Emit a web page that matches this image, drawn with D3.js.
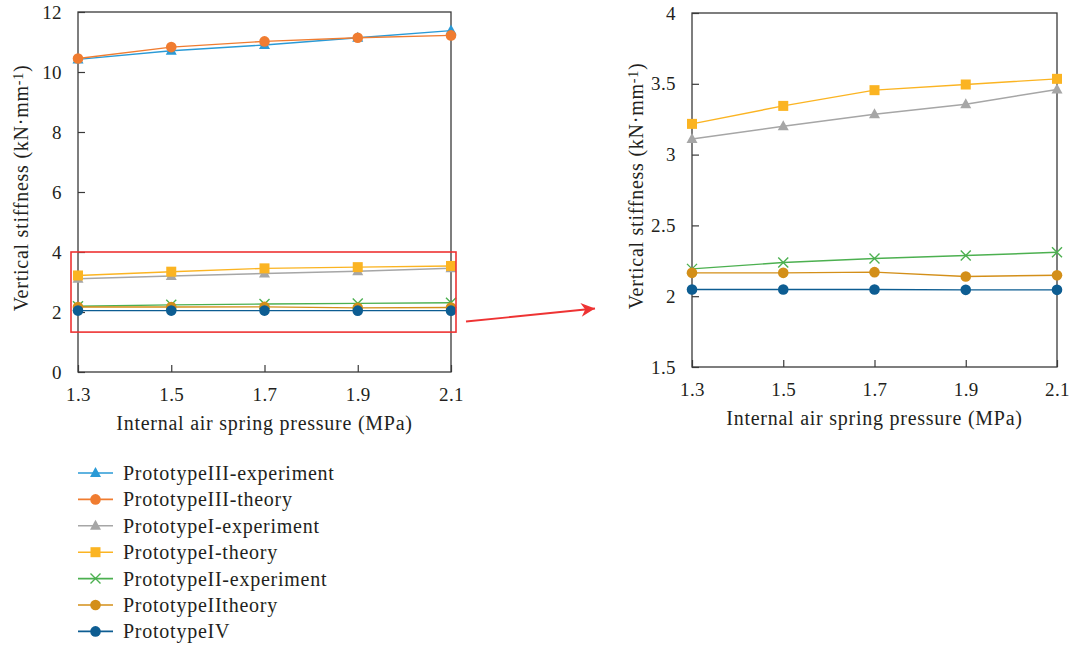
<!DOCTYPE html>
<html>
<head>
<meta charset="utf-8">
<script src="https://cdn.jsdelivr.net/npm/d3@7"></script>
<style>
  body { margin: 0; background: #fff; }
  svg text { font-family: "Liberation Serif", "DejaVu Serif", serif; fill: #231f20; }
</style>
</head>
<body>
<div id="chart"></div>
<script>
// pressure values (MPa)
const pressures = [1.3, 1.5, 1.7, 1.9, 2.1];

// vertical stiffness values (kN/mm)
const p3Experiment = [10.42, 10.71, 10.9, 11.14, 11.38];
const p3Theory = [10.45, 10.83, 11.02, 11.14, 11.22];
const p1Experiment = [3.11, 3.2, 3.285, 3.356, 3.46];
const p1Theory = [3.217, 3.344, 3.455, 3.495, 3.535];
const p2Experiment = [2.193, 2.238, 2.266, 2.287, 2.31];
const p2Theory = [2.165, 2.165, 2.17, 2.139, 2.148];
const p4 = [2.047, 2.047, 2.047, 2.045, 2.045];

const leftTicks = [0, 2, 4, 6, 8, 10, 12];
const rightTicks = [1.5, 2, 2.5, 3, 3.5, 4];
const zoomRange = [1.33, 4]; // red box on the left chart

const series = [
  { name: 'PrototypeIII-experiment', values: p3Experiment, color: '#2a9ad6', marker: 'triangle', zoomed: false },
  { name: 'PrototypeIII-theory', values: p3Theory, color: '#f07c30', marker: 'circle', zoomed: false },
  { name: 'PrototypeI-experiment', values: p1Experiment, color: '#a6a6a6', marker: 'triangle', zoomed: true },
  { name: 'PrototypeI-theory', values: p1Theory, color: '#fbb422', marker: 'square', zoomed: true },
  { name: 'PrototypeII-experiment', values: p2Experiment, color: '#4cb050', marker: 'cross', zoomed: true },
  { name: 'PrototypeIItheory', values: p2Theory, color: '#d38f19', marker: 'circle', zoomed: true },
  { name: 'PrototypeIV', values: p4, color: '#0d5d92', marker: 'circle', zoomed: true }
];

const width = 1079, height = 650;
const svg = d3.select('#chart').append('svg')
  .attr('width', width)
  .attr('height', height);

function drawMarker(g, type, x, y, color) {
  if (type === 'circle') {
    g.append('circle').attr('cx', x).attr('cy', y).attr('r', 5.3).attr('fill', color);
  } else if (type === 'square') {
    g.append('rect').attr('x', x - 5).attr('y', y - 5).attr('width', 10).attr('height', 10).attr('fill', color);
  } else if (type === 'triangle') {
    g.append('path')
      .attr('d', `M${x},${y - 6}L${x + 5.5},${y + 4}L${x - 5.5},${y + 4}Z`)
      .attr('fill', color);
  } else if (type === 'cross') {
    g.append('path')
      .attr('d', `M${x - 5},${y - 5}L${x + 5},${y + 5}M${x - 5},${y + 5}L${x + 5},${y - 5}`)
      .attr('stroke', color)
      .attr('stroke-width', 1.4)
      .attr('fill', 'none');
  }
}

function drawPanel(opts) {
  const { left, top, right, bottom, yDomain, yTicks, data, labelX } = opts;
  const x = d3.scaleLinear().domain([1.3, 2.1]).range([left, right]);
  const y = d3.scaleLinear().domain(yDomain).range([bottom, top]);
  const g = svg.append('g');

  // frame
  g.append('rect')
    .attr('x', left).attr('y', top)
    .attr('width', right - left).attr('height', bottom - top)
    .attr('fill', 'none')
    .attr('stroke', '#3a3a3a')
    .attr('stroke-width', 1.3);

  // axes with inward ticks
  const xAxis = g.append('g')
    .attr('transform', `translate(0, ${bottom})`)
    .call(d3.axisBottom(x).tickValues(pressures).tickSize(-7).tickPadding(20).tickFormat(d3.format('.1f')));
  const yAxis = g.append('g')
    .attr('transform', `translate(${left}, 0)`)
    .call(d3.axisLeft(y).tickValues(yTicks).tickSize(-7).tickPadding(16).tickFormat(d => d));

  [xAxis, yAxis].forEach(ax => {
    ax.select('.domain').remove();
    ax.selectAll('line').attr('stroke', '#3a3a3a').attr('stroke-width', 1.2);
    ax.selectAll('text')
      .style('font-family', '"Liberation Serif", serif')
      .style('font-size', '19px')
      .style('letter-spacing', '0.4px')
      .attr('fill', '#231f20');
  });
  xAxis.selectAll('text').attr('dy', '0.45em');

  // axis titles
  g.append('text')
    .attr('x', (left + right) / 2)
    .attr('y', bottom + 58)
    .attr('text-anchor', 'middle')
    .style('font-size', '20px')
    .style('letter-spacing', '0.75px')
    .text('Internal air spring pressure (MPa)');

  const yl = g.append('text')
    .attr('transform', `translate(${labelX}, ${(top + bottom) / 2 - 4}) rotate(-90)`)
    .attr('text-anchor', 'middle')
    .style('font-size', '20px')
    .style('letter-spacing', '0.75px');
  yl.append('tspan').text('Vertical stiffness (kN·mm');
  yl.append('tspan').attr('baseline-shift', '38%').style('font-size', '14px').text('-1');
  yl.append('tspan').text(')');

  // lines and markers
  const line = d3.line().x((d, i) => x(pressures[i])).y(d => y(d));
  data.forEach(s => {
    const sg = g.append('g');
    sg.append('path')
      .datum(s.values)
      .attr('d', line)
      .attr('fill', 'none')
      .attr('stroke', s.color)
      .attr('stroke-width', 1.4);
    s.values.forEach((v, i) => drawMarker(sg, s.marker, x(pressures[i]), y(v), s.color));
  });

  return { x, y };
}

// left panel: all prototypes
const leftPanel = drawPanel({
  left: 78, top: 12, right: 451, bottom: 372,
  yDomain: [0, 12], yTicks: leftTicks, data: series, labelX: 28
});

// right panel: zoomed view
drawPanel({
  left: 692, top: 13, right: 1057, bottom: 367,
  yDomain: [1.5, 4], yTicks: rightTicks, data: series.filter(s => s.zoomed), labelX: 643
});

// red box marking the zoomed region
const bx0 = leftPanel.x(1.3) - 7, bx1 = leftPanel.x(2.1) + 5;
const by0 = leftPanel.y(zoomRange[1]), by1 = leftPanel.y(zoomRange[0]);
svg.append('rect')
  .attr('x', bx0).attr('y', by0)
  .attr('width', bx1 - bx0).attr('height', by1 - by0)
  .attr('fill', 'none')
  .attr('stroke', '#ee3333')
  .attr('stroke-width', 1.6);

// arrow to the zoomed panel
svg.append('defs').append('marker')
  .attr('id', 'arrowhead')
  .attr('viewBox', '0 0 10 10')
  .attr('refX', 10).attr('refY', 5)
  .attr('markerWidth', 17).attr('markerHeight', 14)
  .attr('markerUnits', 'userSpaceOnUse')
  .attr('orient', 'auto')
  .append('path')
  .attr('d', 'M0,0L10,5L0,10L3,5Z')
  .attr('fill', '#ee3333');

svg.append('line')
  .attr('x1', bx1 + 10).attr('y1', 321.5)
  .attr('x2', 595).attr('y2', 308.5)
  .attr('stroke', '#ee3333')
  .attr('stroke-width', 1.8)
  .attr('marker-end', 'url(#arrowhead)');

// legend
const legend = svg.append('g').attr('transform', 'translate(78, 473)');
series.forEach((s, i) => {
  const row = legend.append('g').attr('transform', `translate(0, ${i * 26.4})`);
  row.append('line')
    .attr('x1', 0).attr('x2', 35)
    .attr('y1', 0).attr('y2', 0)
    .attr('stroke', s.color)
    .attr('stroke-width', 1.6);
  drawMarker(row, s.marker, 17.5, 0, s.color);
  row.append('text')
    .attr('x', 45)
    .attr('y', 0)
    .attr('dy', '0.35em')
    .style('font-size', '20px')
    .style('letter-spacing', '0.75px')
    .text(s.name);
});
</script>
</body>
</html>
